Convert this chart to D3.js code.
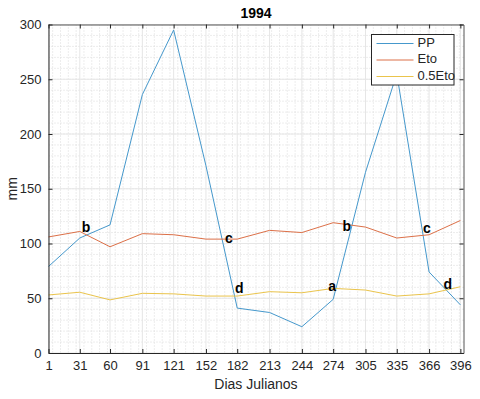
<!DOCTYPE html>
<html>
<head>
<meta charset="utf-8">
<script src="https://cdn.jsdelivr.net/npm/d3@7"></script>
<style>
  body { margin: 0; background: #fff; }
  text { font-family: "Liberation Sans", Arial, sans-serif; }
</style>
</head>
<body>
<svg id="mainsvg" width="480" height="399"></svg>
<script>
const dias = [1, 31, 60, 91, 121, 152, 182, 213, 244, 274, 305, 335, 366, 396];
const pp = [79, 105, 117, 236, 295, 171, 41, 37, 24, 49, 165, 255, 74, 44];
const eto = [106, 111, 97, 109, 108, 104, 104, 112, 110, 119, 115, 105, 108, 121];
const halfEto = [53, 55.5, 48.5, 54.5, 54, 52, 52, 56, 55, 59, 57.5, 52, 54, 60.5];
const yTicks = [0, 50, 100, 150, 200, 250, 300];
const notes = [
  {t: 'b', x: 37, y: 114}, {t: 'c', x: 174, y: 104}, {t: 'd', x: 184, y: 58.5},
  {t: 'a', x: 273, y: 60}, {t: 'b', x: 287, y: 115}, {t: 'c', x: 364, y: 113},
  {t: 'd', x: 384, y: 62}
];

const svg = d3.select('#mainsvg');
const margin = {left: 48.5, top: 24.5, right: 16.5, bottom: 46};
const width = +svg.attr('width') - margin.left - margin.right;
const height = +svg.attr('height') - margin.top - margin.bottom;
const g = svg.append('g').attr('transform', `translate(${margin.left}, ${margin.top})`);

const x = d3.scaleLinear().domain([1, 399]).range([0, width]);
const y = d3.scaleLinear().domain([0, 300]).range([height, 0]);

// minor grid
g.selectAll('.minx').data(d3.range(5, 399, 7.5)).join('line').attr('class', 'minx')
  .attr('x1', d => x(d)).attr('x2', d => x(d)).attr('y1', 0).attr('y2', height)
  .attr('stroke', '#dadada').attr('stroke-dasharray', '1,2');
g.selectAll('.miny').data(d3.range(10, 300, 10)).join('line').attr('class', 'miny')
  .attr('y1', d => y(d)).attr('y2', d => y(d)).attr('x1', 0).attr('x2', width)
  .attr('stroke', '#dadada').attr('stroke-dasharray', '1,2');
// major grid
g.selectAll('.majx').data(dias).join('line').attr('class', 'majx')
  .attr('x1', d => x(d)).attr('x2', d => x(d)).attr('y1', 0).attr('y2', height)
  .attr('stroke', '#e6e6e6');
g.selectAll('.majy').data(yTicks).join('line').attr('class', 'majy')
  .attr('y1', d => y(d)).attr('y2', d => y(d)).attr('x1', 0).attr('x2', width)
  .attr('stroke', '#e6e6e6');

const line = d3.line().x((d, i) => x(dias[i])).y(d => y(d));
const series = [
  {name: 'PP', values: pp, color: '#4598cc'},
  {name: 'Eto', values: eto, color: '#dc7048'},
  {name: '0.5Eto', values: halfEto, color: '#eac44c'}
];
g.selectAll('.serie').data(series).join('path').attr('class', 'serie')
  .attr('d', d => line(d.values)).attr('fill', 'none')
  .attr('stroke', d => d.color).attr('stroke-width', 1);

g.selectAll('.note').data(notes).join('text').attr('class', 'note')
  .attr('x', d => x(d.x)).attr('y', d => y(d.y))
  .attr('dominant-baseline', 'middle').attr('text-anchor', 'middle')
  .attr('font-size', 14).attr('font-weight', 'bold').attr('fill', '#000')
  .text(d => d.t);

// axes
const axisCol = '#262626';
const xAxis = g.append('g').attr('transform', `translate(0, ${height})`)
  .call(d3.axisBottom(x).tickValues(dias).tickSizeInner(-4).tickSizeOuter(0).tickPadding(8));
const xTop = g.append('g')
  .call(d3.axisTop(x).tickValues(dias).tickSizeInner(-4).tickSizeOuter(0).tickFormat(''));
const yAxis = g.append('g')
  .call(d3.axisLeft(y).tickValues(yTicks).tickSizeInner(-4).tickSizeOuter(0).tickPadding(7));
const yRight = g.append('g').attr('transform', `translate(${width}, 0)`)
  .call(d3.axisRight(y).tickValues(yTicks).tickSizeInner(-4).tickSizeOuter(0).tickFormat(''));
[xAxis, xTop, yAxis, yRight].forEach(a => {
  a.selectAll('path, line').attr('stroke', axisCol);
  a.selectAll('text').attr('fill', axisCol).attr('font-size', 13)
    .style('font-family', '"Liberation Sans", Arial, sans-serif');
});
xTop.select('path').attr('stroke', '#555');
yRight.select('path').attr('stroke', '#555');

svg.append('text').attr('x', margin.left + width / 2).attr('y', 389)
  .attr('text-anchor', 'middle').attr('font-size', 14).attr('fill', axisCol)
  .text('Dias Julianos');
svg.append('text').attr('transform', `translate(17, ${margin.top + height / 2}) rotate(-90)`)
  .attr('text-anchor', 'middle').attr('font-size', 14).attr('fill', axisCol)
  .text('mm');
svg.append('text').attr('x', margin.left + width / 2).attr('y', 18)
  .attr('text-anchor', 'middle').attr('font-size', 14).attr('font-weight', 'bold')
  .attr('fill', '#000').text('1994');

// legend
const lg = svg.append('g').attr('transform', 'translate(371.5, 34.5)');
lg.append('rect').attr('width', 82.5).attr('height', 50.5)
  .attr('fill', '#fff').attr('stroke', axisCol);
const row = lg.selectAll('.row').data(series).join('g').attr('class', 'row')
  .attr('transform', (d, i) => `translate(0, ${9 + i * 16.5})`);
row.append('line').attr('x1', 5).attr('x2', 42).attr('stroke', d => d.color);
row.append('text').attr('x', 46).attr('dominant-baseline', 'middle')
  .attr('font-size', 13).attr('fill', axisCol).text(d => d.name);
</script>
</body>
</html>
